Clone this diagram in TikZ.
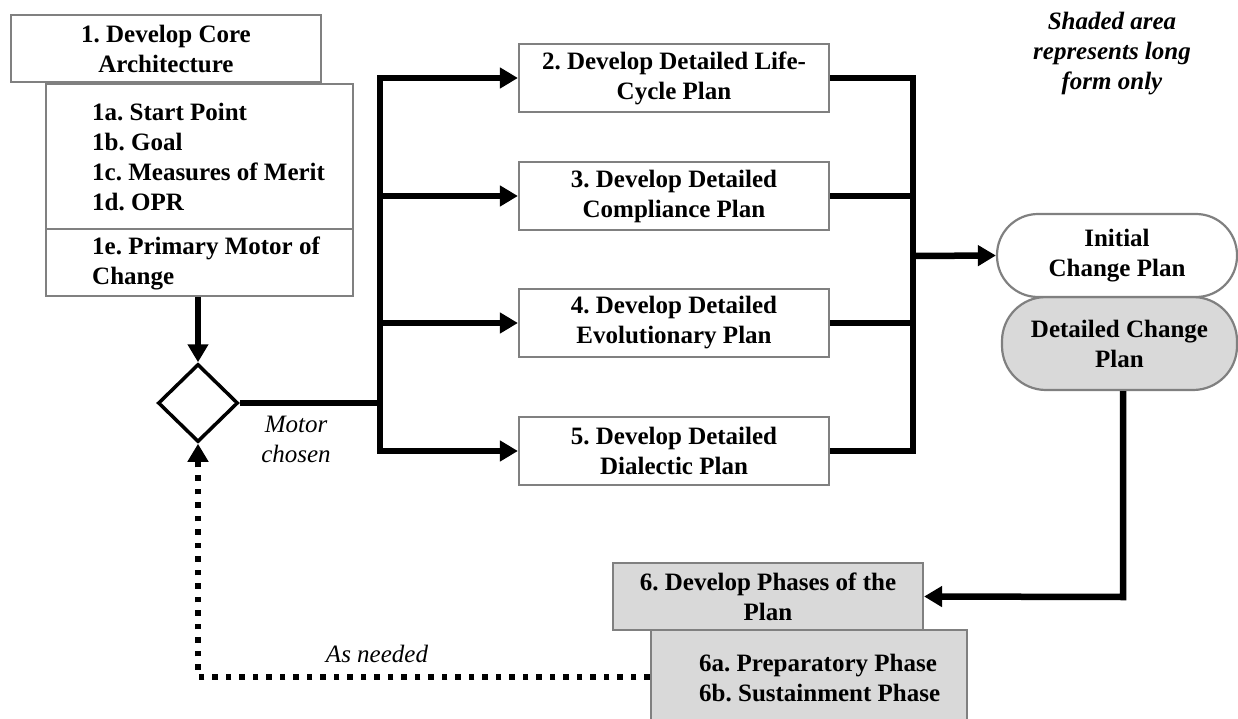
\documentclass[tikz,border=0pt]{standalone}
\usepackage{fontspec}
\setmainfont{Liberation Serif}
\usetikzlibrary{arrows.meta,shapes.geometric}
\newcommand{\myfs}{\fontsize{25}{30}\selectfont}
\frenchspacing
\begin{document}
\begin{tikzpicture}[x=1pt,y=-1pt,
  box/.style={draw=black!50, line width=2.2pt, rectangle, inner sep=0pt, font=\bfseries\myfs, align=center},
  shaded/.style={fill=black!15},
  txt/.style={font=\bfseries\myfs, inner sep=0pt},
  lbl/.style={font=\itshape\myfs, inner sep=0pt, align=center},
  conn/.style={line width=6.5pt, line join=miter},
  arr/.style={conn, -{Triangle[length=18pt,width=20pt]}},
  dotarr/.style={line width=5.5pt, dash pattern=on 5.5pt off 8pt, -{Triangle[length=18pt,width=20pt]}},
]
\useasboundingbox (0,0) rectangle (1238,719);

% Step 1
\node[box, minimum width=310, minimum height=67] (b1) at (166,48.5) {1. Develop Core\\Architecture};
\node[box, minimum width=307, minimum height=145] (b1a) at (199.5,156.5) {};
\node[txt, anchor=west, align=left] (t1a) at (92,157) {1a. Start Point\\1b. Goal\\1c. Measures of Merit\\1d. OPR};
\node[box, minimum width=307, minimum height=67] (b1e) at (199.5,262.5) {};
\node[txt, anchor=west, align=left] (t1e) at (92,263) {1e. Primary Motor of\\Change};

% decision
\node[draw, diamond, line width=3.5pt, minimum width=80, minimum height=78, inner sep=0pt, fill=white] (d) at (198,403) {};

% steps 2-5
\node[box, minimum width=310, minimum height=68] (b2) at (674,78) {2. Develop Detailed Life-\\Cycle Plan};
\node[box, minimum width=310, minimum height=68] (b3) at (674,196) {3. Develop Detailed\\Compliance Plan};
\node[box, minimum width=310, minimum height=68] (b4) at (674,323) {4. Develop Detailed\\Evolutionary Plan};
\node[box, minimum width=310, minimum height=68] (b5) at (674,451) {5. Develop Detailed\\Dialectic Plan};

% plans
\node[box, shaded, minimum width=235, minimum height=93, rounded corners=44pt] (det) at (1119.5,343.5) {Detailed Change\\Plan};
\node[box, fill=white, minimum width=240, minimum height=83, rounded corners=41pt] (init) at (1117,255.5) {Initial\\Change Plan};

% step 6
\node[box, shaded, minimum width=310, minimum height=67] (b6) at (768,596.5) {6. Develop Phases of the\\Plan};
\node[box, shaded, minimum width=316, minimum height=130] (b6a) at (809,695) {};
\node[txt, anchor=west, align=left] (t6a) at (699,678) {6a. Preparatory Phase\\6b. Sustainment Phase};

% labels
\node[lbl] (lm) at (296,439) {Motor\\chosen};
\node[lbl] (la) at (377,654) {As needed};
\node[lbl, font=\bfseries\itshape\myfs] (ls) at (1112,54) {Shaded area\\represents long\\form only};

% junctions
\coordinate (jL) at (380,403);
\coordinate (jR) at (913,256);
\coordinate (jB) at (1123,597);
\coordinate (jD) at (198,677);

% connectors
\draw[arr] (b1e.south -| d.north) -- (d.north);
\draw[conn] (d.east) -- (jL);
\draw[arr] (jL) |- (b2.west);
\draw[arr] (jL) |- (b3.west);
\draw[arr] (jL) |- (b4.west);
\draw[arr] (jL) |- (b5.west);
\draw[conn] (b2.east) -| (jR);
\draw[conn] (b3.east) -| (jR);
\draw[conn] (b4.east) -| (jR);
\draw[conn] (b5.east) -| (jR);
\draw[arr] (jR) -- (init.west);
\draw[arr] (det.south -| jB) -- (jB) -- (b6.east);
\draw[dotarr] (jD -| b6a.west) -- (jD) -- (d.south);
\end{tikzpicture}
\end{document}
